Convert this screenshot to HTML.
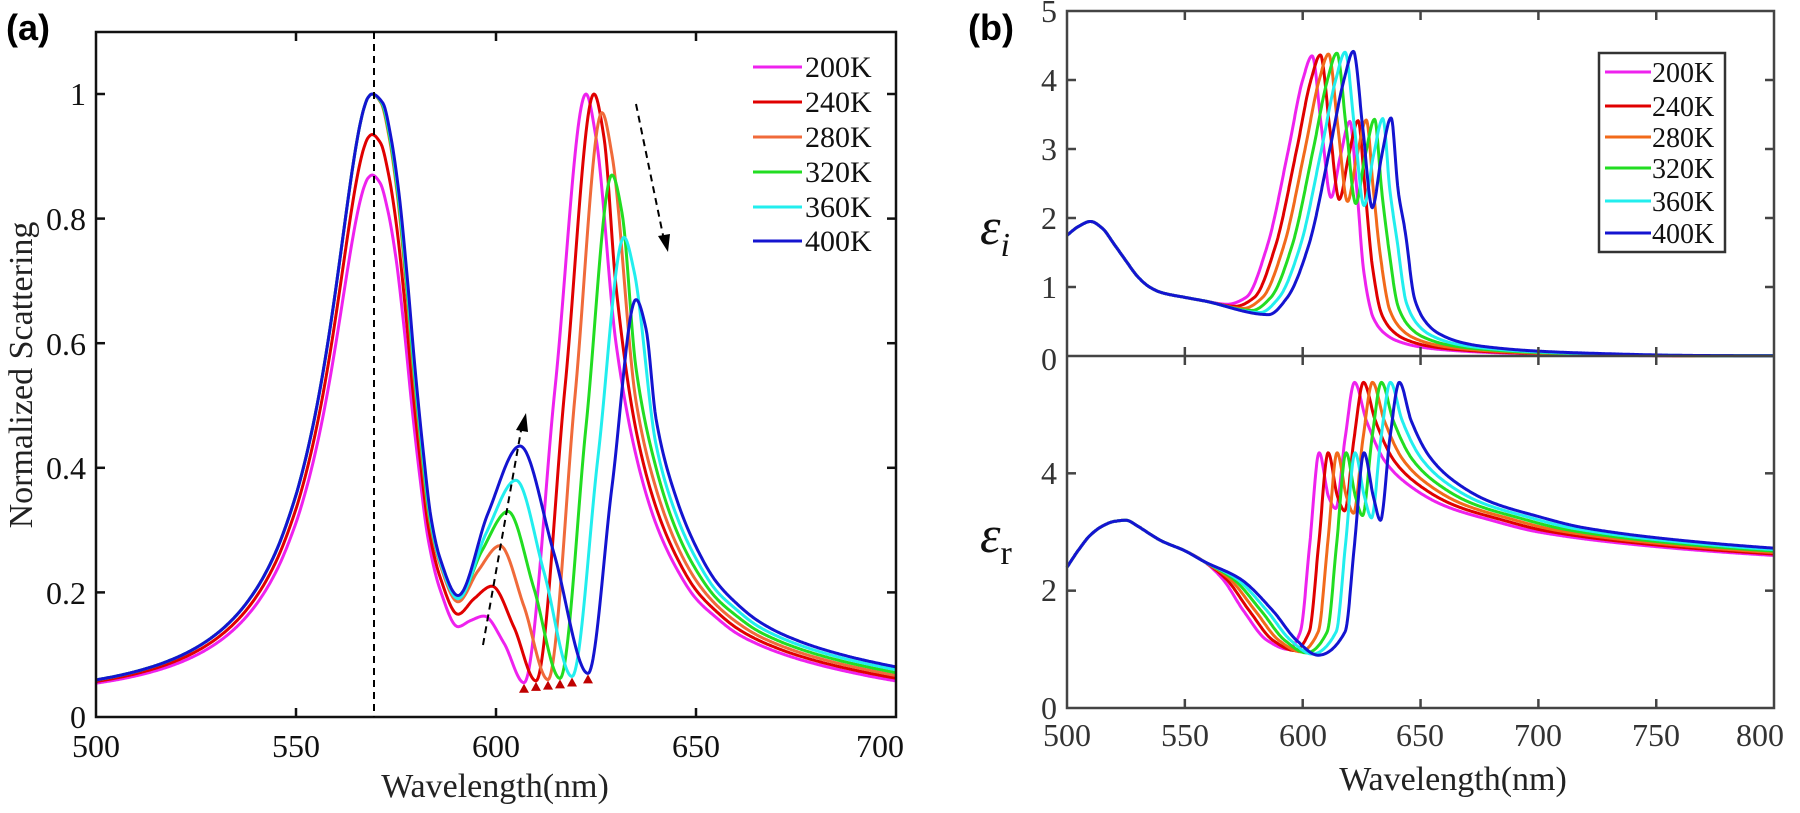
<!DOCTYPE html>
<html><head><meta charset="utf-8"><style>
html,body{margin:0;padding:0;background:#fff;}
svg{display:block;}
text{font-family:"Liberation Serif",serif;}
</style></head><body>
<svg id="s" width="1800" height="813" viewBox="0 0 1800 813" xmlns="http://www.w3.org/2000/svg">
<rect width="1800" height="813" fill="#fff"/>
<g id="curves"></g>
<rect x="96" y="32" width="800" height="685" fill="none" stroke="#111" stroke-width="2.5"/>
<g id="ticks" stroke="#111" stroke-width="2.5"></g>
<line x1="374" y1="32" x2="374" y2="717" stroke="#000" stroke-width="2" stroke-dasharray="7,5"/>
<line x1="483" y1="645" x2="522" y2="425" stroke="#000" stroke-width="2" stroke-dasharray="7,5"/>
<polygon points="526,413 516,430 528,432" fill="#000"/>
<line x1="636" y1="104" x2="664" y2="240" stroke="#000" stroke-width="2" stroke-dasharray="7,5"/>
<polygon points="668,252 658,236 670,234" fill="#000"/>
<g id="tri" fill="#c00000"></g>
<g font-size="32" fill="#111" text-anchor="middle">
<text x="96" y="757">500</text><text x="296" y="757">550</text><text x="496" y="757">600</text><text x="696" y="757">650</text><text x="880" y="757">700</text>
</g>
<g font-size="32" fill="#111" text-anchor="end">
<text x="86" y="728">0</text><text x="86" y="604">0.2</text><text x="86" y="479">0.4</text><text x="86" y="355">0.6</text><text x="86" y="230">0.8</text><text x="86" y="105">1</text>
</g>
<text x="0" y="0" font-size="34" fill="#222" text-anchor="middle" transform="translate(32,375) rotate(-90)">Normalized Scattering</text>
<text x="495" y="797" font-size="34" fill="#222" text-anchor="middle">Wavelength(nm)</text>
<text x="6" y="40" font-size="36" font-weight="bold" style="font-family:'Liberation Sans',sans-serif">(a)</text>
<g id="lega"></g>
<rect x="1067" y="11" width="707" height="697" fill="none" stroke="#444" stroke-width="2.5"/>
<line x1="1067" y1="356" x2="1774" y2="356" stroke="#444" stroke-width="2.5"/>
<g id="ticksb" stroke="#444" stroke-width="2.5"></g>
<g font-size="32" fill="#333" text-anchor="middle">
<text x="1067" y="746">500</text><text x="1185" y="746">550</text><text x="1303" y="746">600</text><text x="1420" y="746">650</text><text x="1538" y="746">700</text><text x="1656" y="746">750</text><text x="1760" y="746">800</text>
</g>
<g font-size="32" fill="#333" text-anchor="end">
<text x="1057" y="22">5</text><text x="1057" y="91">4</text><text x="1057" y="160">3</text><text x="1057" y="229">2</text><text x="1057" y="298">1</text><text x="1057" y="370">0</text>
<text x="1057" y="601">2</text><text x="1057" y="484">4</text><text x="1057" y="719">0</text>
</g>
<text x="980" y="244" font-size="52" font-style="italic" fill="#111">ε<tspan font-size="34" dy="12">i</tspan></text>
<text x="980" y="552" font-size="52" font-style="italic" fill="#111">ε<tspan font-size="34" font-style="normal" dy="12">r</tspan></text>
<text x="1453" y="790" font-size="34" fill="#222" text-anchor="middle">Wavelength(nm)</text>
<text x="968" y="40" font-size="36" font-weight="bold" style="font-family:'Liberation Sans',sans-serif">(b)</text>
<rect x="1599" y="53" width="126" height="199" fill="#fff" stroke="#333" stroke-width="2.5"/>
<g id="legb"></g>
</svg>
<script>
var NS="http://www.w3.org/2000/svg";
function el(p,t,a){var e=document.createElementNS(NS,t);for(var k in a)e.setAttribute(k,a[k]);p.appendChild(e);return e;}
function mono(xs,ys){var n=xs.length,d=[],m=[];for(var i=0;i<n-1;i++)d.push((ys[i+1]-ys[i])/(xs[i+1]-xs[i]));
m[0]=d[0];m[n-1]=d[n-2];for(i=1;i<n-1;i++){if(d[i-1]*d[i]<=0)m[i]=0;else{var w1=2*(xs[i+1]-xs[i])+(xs[i]-xs[i-1]),w2=(xs[i+1]-xs[i])+2*(xs[i]-xs[i-1]);m[i]=(w1+w2)/(w1/d[i-1]+w2/d[i]);}}
return function(x){var i=0;if(x<=xs[0])return ys[0];if(x>=xs[n-1])return ys[n-1];while(x>xs[i+1])i++;var h=xs[i+1]-xs[i],t=(x-xs[i])/h,t2=t*t,t3=t2*t;
return (2*t3-3*t2+1)*ys[i]+(t3-2*t2+t)*h*m[i]+(-2*t3+3*t2)*ys[i+1]+(t3-t2)*h*m[i+1];};}
function clean(p){var xs=[],ys=[];p.sort(function(a,b){return a[0]-b[0]});for(var i=0;i<p.length;i++){if(xs.length&&p[i][0]-xs[xs.length-1]<0.5)continue;xs.push(p[i][0]);ys.push(p[i][1]);}return mono(xs,ys);}
var cols=["#ee22ee","#e00000","#f06a3a","#22dd22","#22eeee","#1414d0"];
var colsb=["#ee22ee","#e00000","#f26a1a","#22dd22","#22eeee","#1414d0"];
var labs=["200K","240K","280K","320K","360K","400K"];
var G=document.getElementById("curves");
function draw(f,x0,x1,X,Y,c){var d="";for(var w=x0;w<=x1+1e-9;w+=0.25){d+=(d?"L":"M")+X(w).toFixed(1)+","+Y(f(w)).toFixed(1);}el(G,"path",{d:d,fill:"none",stroke:c,"stroke-width":3,"stroke-linejoin":"round"});}
var XA=function(w){return 96+(w-500)*4},YA=function(v){return 717-v*623};
var H=[0.87,0.935,1,1,1,1],dip1=[0.145,0.165,0.185,0.19,0.19,0.195],p2=[597,599,601,603,605,606],h2=[0.162,0.21,0.275,0.33,0.38,0.435],
dd=[607,610,613,616,619,623],dv=[0.055,0.058,0.06,0.062,0.065,0.07],P=[622.5,624.5,626.5,629,632,635],Hp=[1,1,0.97,0.87,0.77,0.67];
var mt=mono([620,625,630,635,640,645,650,655,660,670,680,690,700,710,720],[1.0,0.95,0.6,0.42,0.31,0.24,0.19,0.16,0.135,0.105,0.085,0.07,0.058,0.05,0.045]);
var T=document.getElementById("tri");
var rx=[571,573,575,577,579,581,583],ry=[0.985,0.93,0.84,0.71,0.56,0.43,0.32];
for(var k=0;k<6;k++){var p=[];
for(var x=500;x<=569;x+=(x<550?5:1)){var u=(x-569)/15;p.push([x,0.02+(H[k]-0.02)/(1+u*u)*(1+0.12*Math.exp(-u*u*3))/(1+0.12)]);}
for(var j=0;j<rx.length;j++)p.push([rx[j]+0.15*k,H[k]*ry[j]+(1-H[k])*0.3*ry[j]*(1-ry[j])]);
p.push([586,dip1[k]+0.06],[590.5,dip1[k]]);
if(p2[k]-590>5)p.push([(590+p2[k])/2,dip1[k]+(h2[k]-dip1[k])*0.55]);
p.push([p2[k],h2[k]],[(p2[k]+dd[k])/2,(h2[k]+dv[k])/2+0.01],[dd[k],dv[k]],[(dd[k]+P[k])/2,(dv[k]+Hp[k])/2],[P[k],Hp[k]],[P[k]+2.5,Hp[k]*0.93]);
for(x=Math.ceil((P[k]+5)/5)*5;x<=705;x+=5)p.push([x,mt(x-1.3*k)+0.003*k]);
draw(clean(p),500,700,XA,YA,cols[k]);
var tx=XA(dd[k]),ty=YA(dv[k])+1;el(T,"polygon",{points:tx+","+ty+" "+(tx-5)+","+(ty+9)+" "+(tx+5)+","+(ty+9)});}
var XB=function(w){return 1067+(w-500)*2.357},YT=function(v){return 356-v*69},YB=function(v){return 708-v*58.67};
var comT=[[500,1.75],[505,1.88],[510,1.95],[515,1.85],[520,1.62],[525,1.38],[530,1.15],[535,1.0],[540,0.92],[550,0.85],[558,0.8]];
var segT=[[568,0.75],[576,0.85],[585,1.6],[594,3.0],[600,4.0],[604,4.35],[608,3.3],[612,2.3],[616,2.9],[620,3.4],[623,2.4],[626,1.2],[630,0.55],[635,0.32],[640,0.22],[650,0.13],[660,0.09],[680,0.05],[700,0.03],[750,0.005],[820,0]];
var comB=[[500,2.4],[505,2.7],[510,2.95],[515,3.1],[520,3.18],[525,3.2],[530,3.1],[535,2.97],[540,2.85],[550,2.68],[558,2.5]];
var segB=[[566,2.2],[575,1.65],[585,1.15],[594,1.0],[599,1.3],[603,2.8],[607,4.35],[611,3.6],[614,3.4],[618,4.6],[622,5.55],[627,4.9],[635,4.2],[645,3.8],[660,3.45],[680,3.2],[700,3.0],[750,2.75],[800,2.6],[850,2.5]];
for(k=0;k<6;k++){var s=3.5*k,p=comT.slice();
for(var i=0;i<segT.length;i++){var x=segT[i][0],v=segT[i][1];
if(i==0)v-=0.03*k;if(x==604)v+=0.013*k;if(x==612)v-=0.03*k;if(x==620)v+=0.01*k;if(x>=626)v*=(1+0.1*k);
p.push([x+s,v]);}
draw(clean(p),500,800,XB,YT,colsb[k]);
p=comB.slice();
for(i=0;i<segB.length;i++){x=segB[i][0];v=segB[i][1];var sh=x<599?2.5*k:3.8*k;if(x==566)sh=1.5*k;
if(x==594)v-=0.02*k;if(x==614)v-=0.04*k;if(x>=635)v+=0.015*k;p.push([x+sh,v]);}
draw(clean(p),500,800,XB,YB,colsb[k]);}
var t=document.getElementById("ticks");
[550,600,650].forEach(function(w){var x=XA(w);el(t,"line",{x1:x,y1:717,x2:x,y2:708});el(t,"line",{x1:x,y1:32,x2:x,y2:41});});
[0.2,0.4,0.6,0.8,1].forEach(function(v){var y=YA(v);el(t,"line",{x1:96,y1:y,x2:105,y2:y});el(t,"line",{x1:896,y1:y,x2:887,y2:y});});
var tb=document.getElementById("ticksb");
[550,600,650,700,750].forEach(function(w){var x=XB(w);el(tb,"line",{x1:x,y1:708,x2:x,y2:699});el(tb,"line",{x1:x,y1:356,x2:x,y2:347});el(tb,"line",{x1:x,y1:356,x2:x,y2:365});el(tb,"line",{x1:x,y1:11,x2:x,y2:20});});
[1,2,3,4].forEach(function(v){var y=YT(v);el(tb,"line",{x1:1067,y1:y,x2:1076,y2:y});el(tb,"line",{x1:1774,y1:y,x2:1765,y2:y});});
[2,4].forEach(function(v){var y=YB(v);el(tb,"line",{x1:1067,y1:y,x2:1076,y2:y});el(tb,"line",{x1:1774,y1:y,x2:1765,y2:y});});
var la=document.getElementById("lega"),ya=[67,102,137,172,207,241];
var lb=document.getElementById("legb"),yb=[72,106,137,168,201,233];
for(k=0;k<6;k++){el(la,"line",{x1:753,y1:ya[k],x2:802,y2:ya[k],stroke:cols[k],"stroke-width":3});
var tt=el(la,"text",{x:805,y:ya[k]+10,"font-size":30,fill:"#111"});tt.textContent=labs[k];
el(lb,"line",{x1:1605,y1:yb[k],x2:1651,y2:yb[k],stroke:colsb[k],"stroke-width":3});
tt=el(lb,"text",{x:1652,y:yb[k]+10,"font-size":28,fill:"#111"});tt.textContent=labs[k];}
</script>
</body></html>
